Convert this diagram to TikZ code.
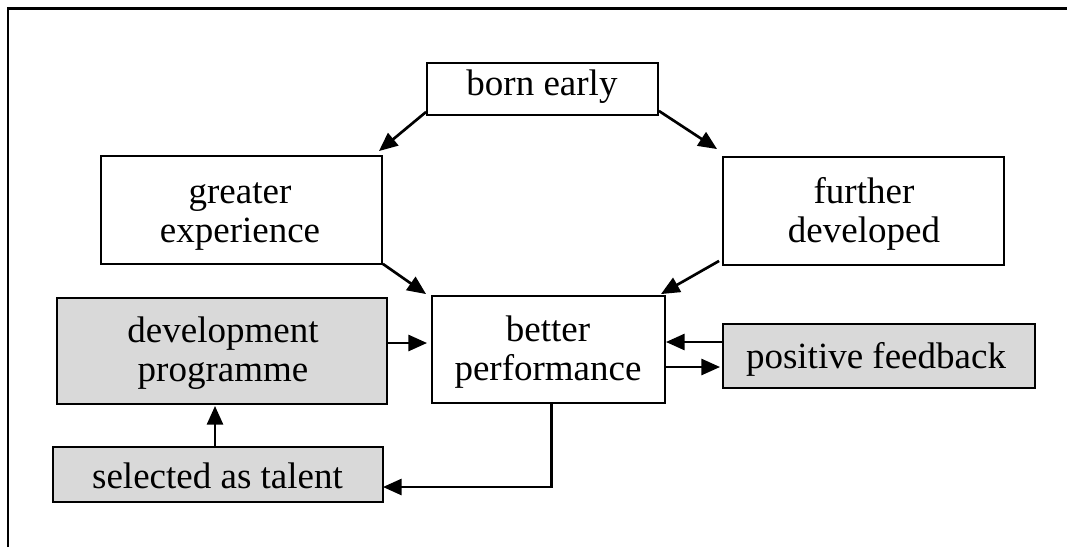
\documentclass[tikz,border=0pt]{standalone}
\usepackage{fontspec}
\setmainfont{Liberation Serif}
\usetikzlibrary{arrows.meta,calc}
\begin{document}
\begin{tikzpicture}[x=0.75pt,y=-0.75pt,
  box/.style={draw=black, line width=1.4pt, inner sep=0pt, fill=white},
  grey/.style={box, fill=boxgrey},
  txt/.style={inner sep=0pt, anchor=base, align=center,
    font=\fontsize{27.75pt}{29.25pt}\selectfont},
  conn/.style={draw=black, line width=2pt,
    -{Triangle[length=14pt,width=12pt]}},
  frame/.style={draw=black, line width=2.2pt}]
\definecolor{boxgrey}{RGB}{217,217,217}
\useasboundingbox (0,0) rectangle (1067,547);
% outer frame (only top and left visible)
\coordinate (f1) at (8,547);
\coordinate (f2) at (8,8.5);
\coordinate (f3) at (1067,8.5);
\draw[frame] (f1) -- (f2) -- (f3);
% boxes
\node[box, minimum width=173.25pt, minimum height=39pt] (be) at (542.5,89) {};
\node[box, minimum width=210.75pt, minimum height=81pt] (ge) at (241.5,210) {};
\node[box, minimum width=210.75pt, minimum height=81pt] (fd) at (863.5,211) {};
\node[box, minimum width=174.75pt, minimum height=80.25pt] (bp) at (548.5,349.5) {};
\node[grey, minimum width=247.5pt, minimum height=79.5pt] (dp) at (222,351) {};
\node[grey, minimum width=234pt, minimum height=48pt] (pf) at (879,356) {};
\node[grey, minimum width=247.5pt, minimum height=41.25pt] (st) at (218,474.5) {};
% texts (base anchor = baseline of the last line)
\node[txt] (bet) at (542,95) {born early};
\node[txt] (get) at (240,242) {greater\\experience};
\node[txt] (fdt) at (864,242) {further\\developed};
\node[txt] (bpt) at (548,380) {better\\performance};
\node[txt] (dpt) at (223,381.5) {development\\programme};
\node[txt] (pft) at (876,368) {positive feedback};
\node[txt] (stt) at (217.5,488) {selected as talent};
% connectors
\draw[conn] ($(be.south west)+(0,-4)$) -- ($(ge.north east)+(-4,-4)$);
\draw[conn] ($(be.south east)+(0,-5)$) -- ($(fd.north west)+(-5,-7)$);
\draw[conn] ($(ge.south east)+(0,-1)$) -- ($(bp.north west)+(-5,-1)$);
\draw[conn] ($(fd.south west)+(-3,-5)$) -- ($(bp.north east)+(-5,-1)$);
\draw[conn] ($(dp.east)+(0,-8)$) -- ($(bp.west |- dp.east)+(-4,-8)$);
\draw[conn] ($(pf.west)+(0,-14)$) -- ($(bp.east |- pf.west)+(0,-14)$);
\draw[conn] ($(bp.east)+(0,17.5)$) -- ($(pf.west |- bp.east)+(-2,17.5)$);
\draw[conn] ($(bp.south)+(3,0)$) |- ($(st.east)+(-1,12.5)$);
\draw[conn] ($(st.north)+(-3,0)$) -- ($(st.north |- dp.south)+(-3,1)$);
\end{tikzpicture}
\end{document}
